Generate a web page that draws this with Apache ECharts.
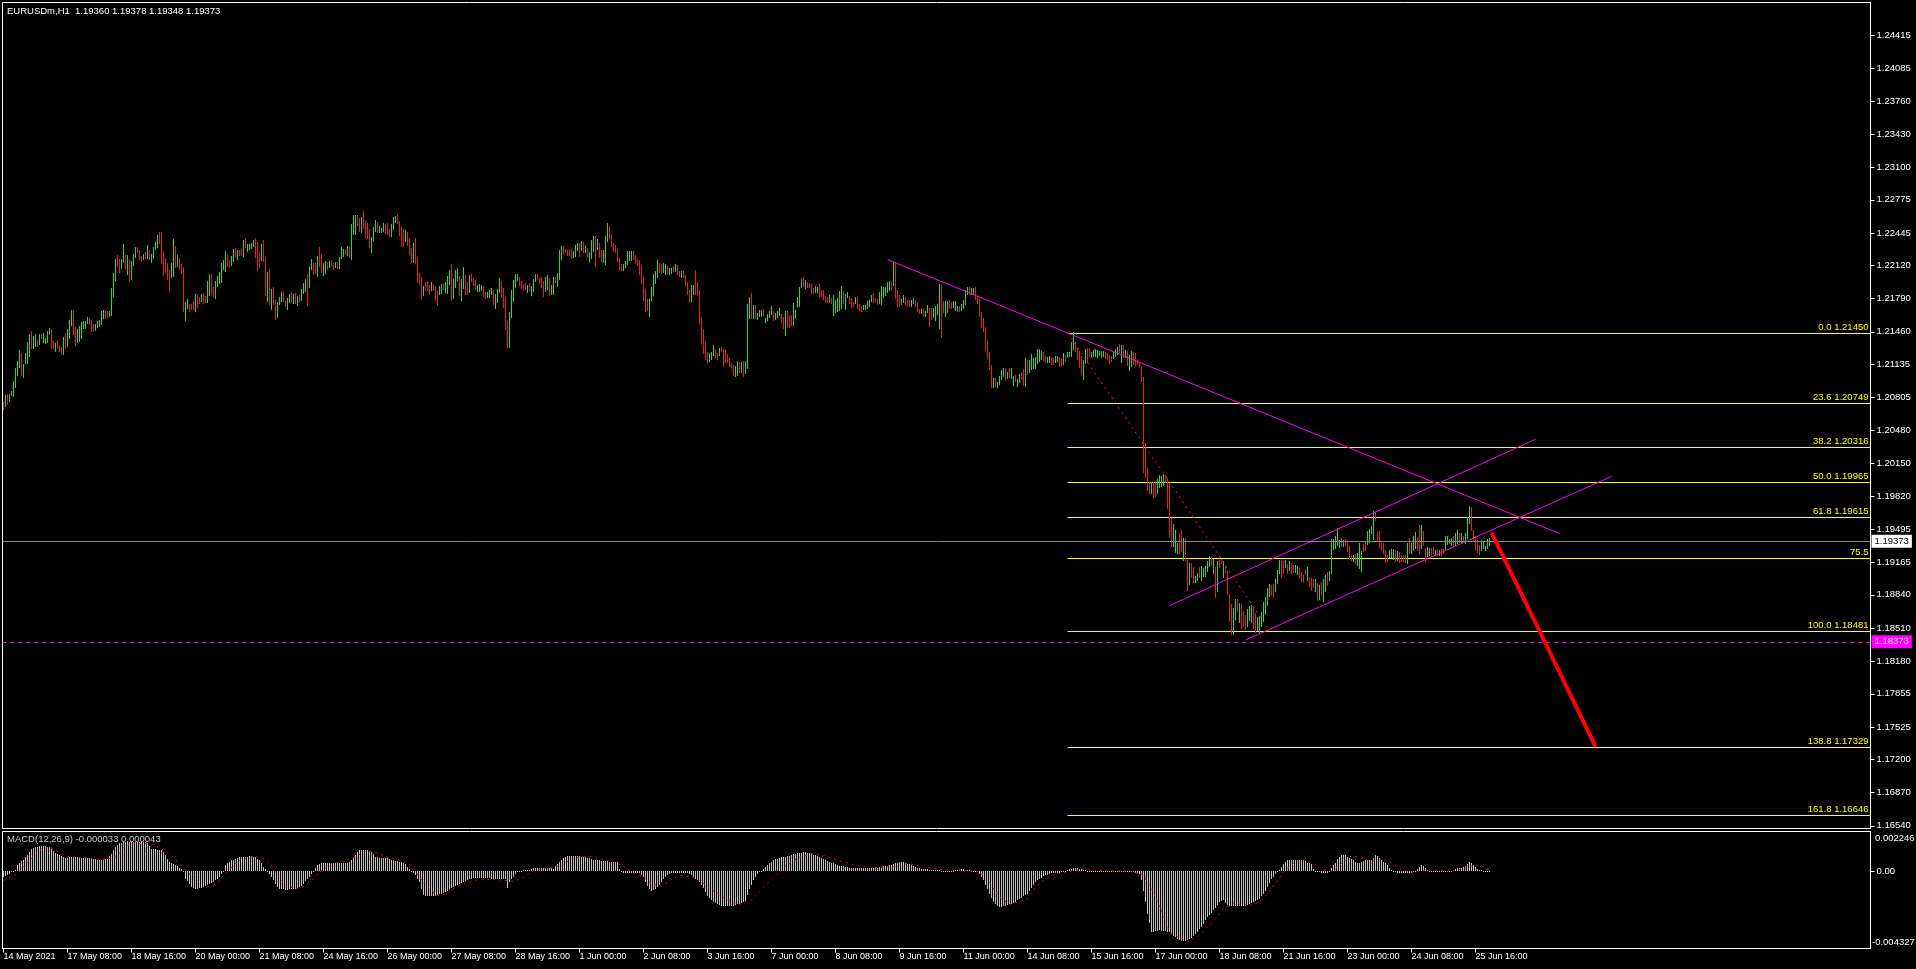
<!DOCTYPE html>
<html><head><meta charset="utf-8">
<script src="https://cdn.jsdelivr.net/npm/echarts@6/dist/echarts.min.js"></script>
<style>html,body{margin:0;padding:0;background:#000;overflow:hidden}#c{width:1916px;height:969px}</style>
</head><body><div id="c"></div>
<script>
// ---------- DATA (prices as pips relative to 1.2000) ----------
const barHigh = [
76,83,84,84,87,97,110,117,128,125, 114,125,136,144,147,142,144,138,144,144,
145,140,147,150,149,137,135,138,133,131, 141,145,149,158,168,168,151,149,152,156,
157,157,161,160,158,154,154,157,158,167, 168,168,167,167,190,205,219,223,219,219,
233,223,223,219,217,224,230,230,227,222, 224,225,232,227,224,230,235,242,245,245,
226,220,215,208,215,238,231,223,220,214, 211,176,179,174,174,177,184,184,181,184,
185,182,197,204,204,191,197,202,206,215, 218,226,224,218,222,228,229,227,227,228,
237,239,233,233,234,237,239,235,225,233, 237,221,206,209,189,191,178,176,181,186,
187,177,180,184,186,184,185,182,183,189, 195,199,204,211,219,215,215,222,230,224,
215,217,216,217,218,215,216,216,221,230, 228,228,231,230,253,262,262,262,259,260,
266,256,254,248,240,250,257,255,251,249, 254,253,254,248,253,260,261,263,256,250,
248,247,245,239,229,234,239,221,205,201, 192,196,197,193,196,194,192,187,192,194,
195,196,202,208,214,199,208,210,202,199, 211,203,196,203,204,200,198,193,194,193,
192,186,186,188,190,188,184,189,200,197, 190,181,157,166,188,198,204,204,201,197,
194,195,193,195,192,199,204,204,200,201, 197,201,203,200,193,201,201,205,227,231,
231,228,227,227,228,226,232,234,234,236, 235,232,229,225,237,241,241,238,234,227,
227,241,254,251,243,234,232,228,220,214, 214,217,226,226,226,226,223,219,218,213,
201,189,179,179,191,204,207,218,215,214, 215,214,212,210,210,212,214,213,207,207,
207,203,196,188,193,193,208,196,188,161, 149,137,126,125,126,133,129,125,130,131,
129,129,124,120,115,113,112,117,116,116, 117,117,174,181,185,173,173,165,168,168,
169,160,164,167,172,167,165,167,170,164, 161,167,167,163,163,175,168,181,191,199,
201,198,196,195,194,190,192,191,194,188, 188,182,181,183,180,183,178,180,187,192,
187,184,186,182,180,176,181,181,174,172, 173,173,177,178,183,185,180,179,186,192,
191,191,196,197,196,216,216,188,183,179, 183,181,178,178,178,180,178,176,169,169,
169,167,173,170,170,170,172,174,194,193, 177,177,177,178,176,177,177,172,172,174,
178,188,191,191,190,190,191,182,180,166, 160,151,137,126,113,100,100,96,102,108,
110,110,106,110,110,102,103,99,104,106, 109,120,118,118,124,120,121,129,129,127,
126,122,121,122,121,120,122,122,121,120, 125,123,126,126,136,146,136,130,127,122,
118,129,130,130,126,128,129,128,127,127, 127,126,125,123,122,126,129,131,134,133,
133,128,127,123,127,126,125,119,115,112, 101,35,10,-4,-4,-4,-3,-1,3,2,
4,3,0,-5,-39,-45,-51,-64,-54,-51, -59,-59,-81,-84,-84,-88,-97,-94,-88,-87,
-89,-87,-82,-77,-78,-80,-88,-82,-81,-80, -82,-87,-92,-115,-125,-129,-120,-120,-124,-125,
-132,-136,-130,-127,-126,-128,-134,-138,-137,-133, -123,-118,-109,-105,-106,-105,-100,-91,-81,-81,
-82,-81,-85,-82,-84,-86,-86,-87,-89,-93, -96,-90,-88,-98,-99,-100,-100,-104,-106,-103,
-100,-96,-93,-92,-60,-60,-57,-49,-61,-59, -61,-60,-61,-67,-76,-76,-75,-74,-64,-72,
-65,-62,-52,-50,-47,-32,-33,-52,-52,-63, -64,-71,-76,-71,-70,-70,-71,-72,-73,-76,
-76,-76,-64,-59,-64,-57,-53,-58,-46,-46, -52,-69,-68,-69,-69,-68,-71,-70,-71,-70,
-70,-57,-57,-60,-59,-57,-54,-51,-54,-54, -57,-54,-38,-27,-28,-51,-57,-61,-66,-61,
-63,-67,-60,-59
];
const barLow = [
69,72,74,77,83,82,91,103,111,103, 101,115,115,122,130,130,132,132,134,140,
136,135,136,144,130,130,127,130,127,124, 124,130,132,140,153,144,133,136,137,140,
150,150,155,154,147,147,148,151,152,154, 160,160,161,162,163,182,198,212,206,210,
216,210,204,197,199,213,221,225,219,217, 219,220,220,219,216,220,228,230,234,215,
203,206,199,187,201,202,211,212,209,205, 167,158,170,167,169,169,167,171,175,177,
175,176,176,183,184,182,180,192,195,196, 209,207,212,211,213,217,222,219,223,223,
222,230,226,228,229,231,221,208,211,218, 217,183,177,174,169,174,159,161,174,177,
177,172,169,176,176,175,175,173,177,178, 185,187,173,191,209,204,205,202,212,206,
203,205,209,211,212,209,211,210,210,220, 222,224,223,221,219,243,243,252,246,245,
249,240,239,230,225,237,246,245,245,245, 246,244,243,241,241,248,255,254,242,231,
231,236,232,224,216,216,215,196,194,179, 183,188,188,184,188,188,178,173,184,185,
189,186,185,194,178,180,191,198,183,178, 190,184,184,186,197,193,189,187,187,188,
182,180,181,181,184,174,170,176,186,181, 171,149,131,131,161,177,191,198,193,190,
188,189,186,188,183,187,197,199,195,191, 182,187,189,183,184,184,196,192,199,219,
224,225,223,223,220,221,222,227,222,227, 225,225,221,217,220,226,212,228,221,217,
216,214,236,239,231,226,225,217,209,208, 208,211,214,218,218,219,215,213,204,195,
178,167,168,162,178,183,195,201,206,205, 206,204,204,204,205,207,207,204,202,201,
201,193,184,177,177,184,184,183,155,134, 125,119,116,117,119,123,121,119,123,127,
112,116,116,112,110,103,102,103,106,106, 102,105,110,160,160,160,160,159,162,162,
163,156,158,161,164,158,159,161,163,156, 150,143,151,151,153,153,160,172,172,191,
192,190,191,191,185,185,186,186,181,182, 179,176,176,176,175,163,166,167,168,170,
175,169,181,175,171,172,175,170,168,167, 169,169,170,172,177,176,177,174,175,174,
181,183,186,188,188,193,180,172,172,174, 176,174,172,172,172,175,172,167,165,165,
162,162,166,152,159,161,158,164,150,141, 166,162,166,170,170,171,168,167,167,168,
170,174,184,184,184,184,179,175,162,151, 147,128,120,109,91,91,92,91,94,99,
102,98,100,101,100,93,97,92,96,99, 93,92,104,106,109,110,110,115,117,119,
118,116,116,116,114,114,116,117,112,113, 114,117,121,122,122,129,127,119,111,104,
99,115,116,122,121,122,122,121,123,121, 122,120,119,115,117,120,122,124,126,116,
121,121,113,108,112,114,113,115,111,97, 6,1,-12,-15,-15,-19,-18,-15,-9,-8,
-7,-4,-29,-58,-67,-67,-73,-74,-74,-72, -81,-81,-111,-105,-98,-103,-103,-101,-98,-101,
-97,-97,-92,-87,-86,-94,-118,-112,-88,-84, -98,-93,-115,-142,-155,-155,-140,-132,-143,-149,
-147,-150,-147,-141,-143,-149,-153,-151,-153,-147, -142,-135,-126,-117,-116,-118,-112,-104,-94,-98,
-94,-88,-94,-91,-94,-93,-93,-95,-99,-102, -103,-95,-101,-107,-111,-108,-112,-121,-120,-115,
-122,-112,-106,-101,-94,-70,-69,-66,-68,-67, -67,-66,-72,-80,-81,-82,-84,-86,-89,-92,
-72,-71,-65,-63,-54,-60,-41,-62,-68,-70, -74,-83,-82,-78,-78,-80,-82,-81,-83,-82,
-82,-83,-84,-74,-74,-71,-69,-71,-74,-69, -66,-82,-77,-76,-77,-74,-76,-76,-76,-76,
-74,-70,-65,-64,-66,-67,-66,-64,-63,-63, -63,-64,-59,-44,-51,-61,-71,-73,-75,-71,
-69,-71,-69,-66
];
const barDir =
"rgrggggggr"+"ggggrggrgr"+"ggggrrgrrr"+"grgggrrggg"+"gggrrrgggg"+"grrggggrrg"+"grgrgggrrr"+"grgrggggrr"+
"rrrrggrgrr"+"rggrrrgrrg"+"rrggrrgggg"+"ggrrggrgrr"+"grggggrrrg"+"rrgrgrrggg"+"rrggrgrgrg"+"ggrggrrgrr"+
"ggrgrrgrgg"+"grgrgggrrg"+"rrrrgggrgg"+"grrrgggrrr"+"rgrrrgrrrr"+"grrrgrrrgg"+"rgggrgggrg"+"grrgrrrggg"+
"rrgggrgggr"+"rrrgggggrr"+"rrgrgggrrr"+"rggrggrggg"+"rrrrrgggrg"+"rgrgggrgrr"+"gggrrrrrrr"+"gggggrrrrr"+
"rrrgggggrr"+"ggrggrgrrg"+"rrrrggrrrr"+"rrrgggrrgr"+"rrrrrrggrg"+"rgggrgrggg"+"rggggrgggr"+"rgrrrggggg"+
"rgrrrrggrr"+"rrrgrggggg"+"rggrrrgrrr"+"gggggrrrgg"+"ggggrgrrrg"+"grrrggrrrg"+"rggrrggggr"+"rggrrgggrg"+
"gggrggrrrr"+"rrrrrgrggg"+"grgrggrggr"+"rgrggggggg"+"rrggrrggrr"+"grggggrrrr"+"ggrrgggggg"+"grrrrgggrg"+
"rgrggrrrrr"+"rrrrgrrggg"+"grrrrgggrr"+"grrgrrggrg"+"ggggrgrgrr"+"grrrrggrgr"+"rrgggrrggg"+"ggggrrgggr"+
"rgrgrrggrr"+"rrgrrrgrgr"+"ggrggggggr"+"grrrrgrggg"+"rrggggrrrr"+"rrrgggrgrr"+"rrgrgggrrg"+"rrggrrgrgr"+
"rggggrggrg"+"rgggrrrrrg"+"gggg";
// MACD main (units of 0.00001)
const macdMain = [
-30,-25,-20,-12,-5,3,10,34,45,58, 67,80,95,110,127,133,138,140,141,142,
142,141,140,138,125,114,105,98,95,88, 82,77,78,80,80,81,80,80,79,78,
78,77,76,75,72,70,68,67,67,66, 67,68,70,85,99,120,138,150,158,162,
164,165,166,166,167,167,166,166,165,165, 164,163,160,145,127,125,124,123,123,122,
110,90,70,52,46,40,35,30,22,15, 0,-41,-55,-69,-85,-95,-97,-97,-95,-92,
-88,-84,-78,-72,-66,-60,-50,-40,-32,-15, 2,34,45,56,62,66,69,75,80,84,
84,84,84,85,85,84,80,70,62,45, 24,12,0,-15,-32,-50,-69,-85,-98,-101,
-101,-102,-102,-101,-101,-100,-97,-93,-88,-80, -69,-55,-42,-32,-15,0,20,34,42,50,
50,50,50,50,50,50,50,50,50,50, 50,50,50,55,65,80,95,112,118,122,
122,122,122,115,108,96,84,80,78,77, 77,76,74,70,65,62,60,58,55,52,
48,40,24,12,0,-10,-22,-40,-60,-100, -130,-135,-135,-135,-135,-135,-135,-133,-128,-125,
-120,-115,-107,-100,-92,-85,-80,-75,-69,-64, -58,-53,-47,-44,-40,-37,-36,-36,-36,-36,
-36,-36,-36,-38,-40,-41,-41,-41,-41,-41, -41,-42,-92,-60,-45,-32,-15,-4,2,5,
6,6,6,10,16,20,21,21,21,21, 21,21,21,21,18,15,30,43,55,65,
75,82,88,88,88,88,88,86,85,84, 82,80,77,74,69,67,65,63,62,60,
59,58,57,56,56,56,56,56,15,-4, -6,-8,-9,-9,-9,-9,-9,-9,-9,-20,
-32,-60,-84,-97,-107,-103,-97,-88,-75,-60, -45,-32,-22,-13,-8,-6,-6,-6,-6,-6,
-6,-6,-6,-14,-22,-30,-40,-50,-60,-75, -95,-115,-135,-150,-160,-170,-178,-184,-188,-192,
-194,-195,-195,-195,-194,-192,-190,-185,-180,-175, -170,-165,-130,-100,-75,-50,-30,-15,-5,5,
15,25,35,45,55,62,68,72,76,80, 82,83,85,88,92,96,100,103,105,106,
107,107,106,104,100,95,90,85,80,75, 70,65,60,55,50,45,40,36,33,30,
28,26,24,22,20,20,20,20,20,20, 20,20,20,20,20,20,20,22,24,26,
28,30,32,35,38,40,45,50,55,55, 52,48,44,40,35,30,25,20,18,16,
15,14,12,10,8,8,6,6,6,5, 5,4,4,4,4,5,6,8,10,12,
12,10,8,6,5,4,2,0,-15,-30, -50,-75,-100,-125,-150,-170,-185,-195,-200,-198,
-196,-193,-189,-185,-180,-175,-170,-163,-155,-147, -138,-130,-125,-110,-95,-78,-60,-50,-42,-35,
-28,-22,-18,-14,-11,-9,-8,-7,-6,-5, -4,2,8,12,15,18,21,20,16,12,
8,6,5,4,4,4,4,4,4,3, 3,3,3,3,3,2,2,2,2,2,
2,2,2,1,0,-3,-6,-10,-13,-50, -107,-170,-237,-290,-340,-338,-335,-333,-331,-332,
-334,-336,-338,-340,-350,-360,-370,-378,-385,-390, -393,-390,-385,-378,-372,-365,-352,-338,-325,-312,
-295,-275,-256,-245,-232,-219,-205,-190,-172,-165, -159,-175,-190,-196,-196,-196,-196,-196,-196,-196,
-195,-194,-190,-184,-178,-172,-166,-160,-153,-140, -125,-107,-85,-65,-45,-32,-15,-4,10,24,
40,55,65,65,65,65,65,65,65,65, 65,58,47,47,40,15,5,0,-4,-7,
-9,-9,-6,5,20,34,50,70,84,90, 95,90,84,78,71,62,55,47,50,55,
60,62,62,62,62,75,95,88,77,65, 55,45,34,20,9,2,-4,-6,-6,-6,
-6,-6,-6,-6,-6,-4,5,15,25,34, 30,20,9,5,2,0,0,0,0,0,
0,0,0,0,3,10,15,18,20,22, 25,28,40,56,50,34,25,15,10,6,
2,0,-2,-3
];
// MACD signal readings [bar, value*1e5]
const macdSignal = [[0,-50],[7,-13],[12,52],[19,127],[23,136],[27,114],[32,84],[42,77],[52,69],[57,90],[61,146],[65,159],[74,155],[79,127],[83,99],[88,47],[92,-4],[97,-50],[100,-84],[104,-84],[107,-60],[110,-22],[115,34],[119,71],[126,84],[130,71],[134,34],[137,-22],[141,-79],[146,-97],[150,-84],[155,-41],[159,6],[164,43],[170,56],[177,90],[181,114],[186,108],[193,77],[199,62],[204,34],[208,-32],[213,-97],[217,-135],[222,-125],[226,-88],[233,-60],[237,-47],[244,-45],[251,-50],[255,-56],[260,-32],[264,0],[269,15],[275,21],[280,39],[284,71],[289,84],[295,84],[302,62],[306,52],[311,21],[315,-9],[320,-28],[324,-69],[329,-84],[333,-50],[338,-22],[344,-32],[348,-50],[355,-110],[362,-160],[368,-185],[374,-160],[380,-90],[386,-20],[392,40],[398,80],[404,100],[410,90],[418,60],[426,35],[436,22],[446,30],[452,45],[460,25],[470,10],[480,6],[488,0],[493,-60],[498,-144],[503,-185],[507,-172],[512,-153],[516,-88],[521,-41],[525,-19],[530,-9],[534,2],[540,13],[545,6],[554,4],[563,2],[570,-22],[574,-97],[579,-219],[583,-340],[588,-368],[592,-391],[597,-368],[601,-322],[606,-266],[610,-209],[615,-181],[619,-185],[623,-191],[628,-172],[632,-125],[637,-50],[641,9],[646,52],[650,65],[655,47],[659,15],[664,2],[668,34],[673,84],[677,84],[682,65],[686,62],[690,71],[695,43],[699,9],[704,-4],[708,2],[713,9],[717,6],[722,2],[726,6],[731,21],[735,34],[740,28],[743,4]];

const timeLabels = ["14 May 2021","17 May 08:00","18 May 16:00","20 May 00:00","21 May 08:00","24 May 16:00","26 May 00:00","27 May 08:00","28 May 16:00","1 Jun 00:00","2 Jun 08:00","3 Jun 16:00","7 Jun 00:00","8 Jun 08:00","9 Jun 16:00","11 Jun 00:00","14 Jun 08:00","15 Jun 16:00","17 Jun 00:00","18 Jun 08:00","21 Jun 16:00","23 Jun 00:00","24 Jun 08:00","25 Jun 16:00"];
const labelEvery = 32;
const priceTicks = [1.24415,1.24085,1.23760,1.23430,1.23100,1.22775,1.22445,1.22120,1.21790,1.21460,1.21135,1.20805,1.20480,1.20150,1.19820,1.19495,1.19165,1.18840,1.18510,1.18180,1.17855,1.17525,1.17200,1.16870,1.16540];
const macdTicks = [0.002246, 0, -0.004327];
const header = ["EURUSDm,H1", 1.19360, 1.19378, 1.19348, 1.19373];
const macdHeader = ["MACD(12,26,9)", -0.000033, 0.000043];

const fibNames = ["0.0","23.6","38.2","50.0","61.8","75.5","100.0","138.8","161.8"];
const fibPrices = [1.21450,1.20749,1.20316,1.19965,1.19615,1.19210,1.18481,1.17329,1.16646];
const fibShowPrice = [true,true,true,true,true,false,true,true,true];
const fibStartBar = 532;
const fibDiagonal = [[532,1.21450],[583,1.19965],[633,1.18481]];
const trendDown = [[442,1.2218],[778,1.1945]];
const channelUpper = [[583,1.18733],[766,1.2039]];
const channelLower = [[621,1.1839],[804,1.2002]];
const arrowPath = [[744,1.1946],[770,1.1840],[796,1.17329]];
const currentPrice = 1.19373;
const alertPrice = 1.18373;
const futureBars = 190;

// ---------- CHART ----------
const N = barHigh.length + futureBars;
const categories = Array.from({length: N}, (_, i) => i);
const FONT = '"Liberation Sans", Arial, sans-serif';
const UP = '#22e022', DOWN = '#e62020';

const candles = barHigh.map((h, i) => [i, 1.2 + barLow[i] / 1e4, 1.2 + h / 1e4, barDir[i] === 'g' ? 1 : 0]);
const hist = macdMain.map((v, i) => [i, v / 1e5]);
const signal = macdSignal.map(p => [p[0], p[1] / 1e5]);
const fibData = fibPrices.map((p, k) => [fibStartBar, p, k]);

const chart = echarts.init(document.getElementById('c'), null, {renderer: 'canvas'});
const GL = 2.5, GW = 1868;
const tickShown = (idx) => idx % labelEvery === 0 && idx / labelEvery < timeLabels.length;
const option = {
  backgroundColor: '#000',
  animation: false,
  grid: [
    {left: GL, top: 2.5, width: GW, height: 826, show: true, borderColor: '#fff', borderWidth: 1, backgroundColor: 'transparent', outerBoundsMode: 'none', containLabel: false},
    {left: GL, top: 831.5, width: GW, height: 117, show: true, borderColor: '#fff', borderWidth: 1, backgroundColor: 'transparent', outerBoundsMode: 'none', containLabel: false}
  ],
  xAxis: [
    {type: 'category', gridIndex: 0, data: categories, boundaryGap: true,
     axisLine: {show: false, onZero: false}, axisTick: {show: false}, axisLabel: {show: false}, splitLine: {show: false}},
    {type: 'category', gridIndex: 1, data: categories, boundaryGap: true, position: 'bottom',
     axisLine: {show: true, onZero: false, lineStyle: {color: '#fff', width: 1}},
     axisTick: {show: true, alignWithLabel: true, length: 4, lineStyle: {color: '#fff'}, interval: tickShown},
     axisLabel: {show: true, color: '#fff', fontSize: 9, fontFamily: FONT, align: 'left', margin: 4,
       interval: tickShown,
       formatter: (v, idx) => timeLabels[Math.round(idx / labelEvery)] || ''},
     splitLine: {show: false}}
  ],
  yAxis: [
    {type: 'value', gridIndex: 0, position: 'right', min: 1.16513, max: 1.24740, scale: true,
     axisLine: {show: true, lineStyle: {color: '#fff', width: 1}},
     axisTick: {show: true, length: 4, customValues: priceTicks, lineStyle: {color: '#fff'}},
     axisLabel: {show: true, customValues: priceTicks, color: '#fff', fontSize: 9.5, fontFamily: FONT, margin: 6,
       formatter: v => v.toFixed(5)},
     splitLine: {show: false}},
    {type: 'value', gridIndex: 1, position: 'right', min: -0.004327, max: 0.002246,
     axisLine: {show: true, lineStyle: {color: '#fff', width: 1}},
     axisTick: {show: true, length: 4, customValues: [0], lineStyle: {color: '#fff'}},
     axisLabel: {show: true, customValues: [0], color: '#fff', fontSize: 9.5, fontFamily: FONT, margin: 6,
       formatter: () => '0.00'},
     splitLine: {show: false}}
  ],
  series: [
    { // fibonacci levels
      type: 'custom', xAxisIndex: 0, yAxisIndex: 0, data: fibData, z: 1, clip: false, silent: true,
      encode: {x: 0, y: 1},
      renderItem: function (params, api) {
        const s = api.coord([api.value(0), api.value(1)]);
        const right = params.coordSys.x + params.coordSys.width;
        const y = Math.round(s[1]) + 0.5;
        const k = api.value(2);
        const txt = fibShowPrice[k] ? fibNames[k] + ' ' + fibPrices[k].toFixed(5) : fibNames[k];
        return {type: 'group', children: [
          {type: 'line', shape: {x1: s[0], y1: y, x2: right, y2: y}, style: {stroke: '#ffff00', lineWidth: 1}},
          {type: 'text', x: right - 2, y: y - 1.5, style: {text: txt, fill: '#ffff00', font: '9.5px ' + FONT, textAlign: 'right', textVerticalAlign: 'bottom'}}
        ]};
      }
    },
    { // horizontal reference lines
      type: 'line', xAxisIndex: 0, yAxisIndex: 0, data: [], silent: true, z: 2,
      markLine: {silent: true, symbol: ['none', 'none'], animation: false, precision: 5,
        data: [
          {yAxis: currentPrice, lineStyle: {color: '#778899', type: 'solid', width: 1},
           label: {show: true, position: 'end', distance: 1, formatter: () => currentPrice.toFixed(5), backgroundColor: '#fff', color: '#000', fontSize: 9.5, fontFamily: FONT, padding: [2, 3, 1, 3]}},
          {yAxis: alertPrice, lineStyle: {color: '#ff00ff', type: [4, 4], width: 1},
           label: {show: true, position: 'end', distance: 1, formatter: () => alertPrice.toFixed(5), backgroundColor: '#ff00ff', color: '#ffd0ff', fontSize: 9.5, fontFamily: FONT, padding: [2, 3, 1, 3]}}
        ]}
    },
    { // candles (high-low bars)
      type: 'custom', xAxisIndex: 0, yAxisIndex: 0, data: candles, z: 3, silent: true,
      encode: {x: 0, y: [1, 2]},
      renderItem: function (params, api) {
        const i = api.value(0);
        const lo = api.coord([i, api.value(1)]);
        const hi = api.coord([i, api.value(2)]);
        const x = Math.floor(lo[0]) + 0.5;
        const y1 = Math.round(hi[1]);
        const y2 = Math.max(Math.round(lo[1]) + 1, y1 + 1);
        return {type: 'line', shape: {x1: x, y1: y1, x2: x, y2: y2}, style: {stroke: api.value(3) ? UP : DOWN, lineWidth: 1}};
      }
    },
    {type: 'line', xAxisIndex: 0, yAxisIndex: 0, data: trendDown, symbol: 'none', silent: true, z: 4, lineStyle: {color: '#ff00ff', width: 1}},
    {type: 'line', xAxisIndex: 0, yAxisIndex: 0, data: channelUpper, symbol: 'none', silent: true, z: 4, lineStyle: {color: '#ff00ff', width: 1}},
    {type: 'line', xAxisIndex: 0, yAxisIndex: 0, data: channelLower, symbol: 'none', silent: true, z: 4, lineStyle: {color: '#ff00ff', width: 1}},
    {type: 'line', xAxisIndex: 0, yAxisIndex: 0, data: fibDiagonal, symbol: 'rect', symbolSize: [5, 4], silent: true, z: 5,
     itemStyle: {color: '#fff', borderColor: '#ff2020', borderWidth: 1},
     lineStyle: {color: '#ff2020', width: 1, type: [2, 4]}},
    {type: 'line', xAxisIndex: 0, yAxisIndex: 0, silent: true, z: 6,
     data: arrowPath.map((p, k) => ({value: p, symbolSize: k === 0 ? 9 : 6})),
     symbol: 'rect', itemStyle: {color: '#ff0000'}, lineStyle: {color: '#ff0000', width: 4}},
    { // MACD histogram
      type: 'custom', xAxisIndex: 1, yAxisIndex: 1, data: hist, silent: true, z: 3,
      encode: {x: 0, y: 1},
      renderItem: function (params, api) {
        const i = api.value(0);
        const z0 = api.coord([i, 0]);
        const v = api.coord([i, api.value(1)]);
        const x = Math.floor(z0[0]) + 0.5;
        let y1 = Math.round(z0[1]), y2 = Math.round(v[1]);
        if (y1 === y2) y2 = y1 + 1;
        return {type: 'line', shape: {x1: x, y1: y1, x2: x, y2: y2}, style: {stroke: '#c0c0c0', lineWidth: 1}};
      }
    },
    {type: 'line', xAxisIndex: 1, yAxisIndex: 1, data: signal, symbol: 'none', silent: true, z: 4,
     lineStyle: {color: '#ff0000', width: 1, type: [2, 4]}}
  ],
  graphic: [
    {type: 'text', x: 7, y: 11, style: {text: header[0] + '  ' + header.slice(1).map(v => v.toFixed(5)).join(' '), fill: '#fff', font: '9.5px ' + FONT, textVerticalAlign: 'middle'}},
    {type: 'text', x: 7, y: 839, style: {text: macdHeader[0] + ' ' + macdHeader[1].toFixed(6) + ' ' + macdHeader[2].toFixed(6), fill: '#c8c8c8', font: '9.5px ' + FONT, textVerticalAlign: 'middle'}},
    {type: 'text', x: 1875, y: 838, style: {text: macdTicks[0].toFixed(6), fill: '#fff', font: '9.5px ' + FONT, textVerticalAlign: 'middle'}},
    {type: 'text', x: 1872, y: 942, style: {text: macdTicks[2].toFixed(6), fill: '#fff', font: '9.5px ' + FONT, textVerticalAlign: 'middle'}}
  ]
};
chart.setOption(option);
</script>
</body></html>
